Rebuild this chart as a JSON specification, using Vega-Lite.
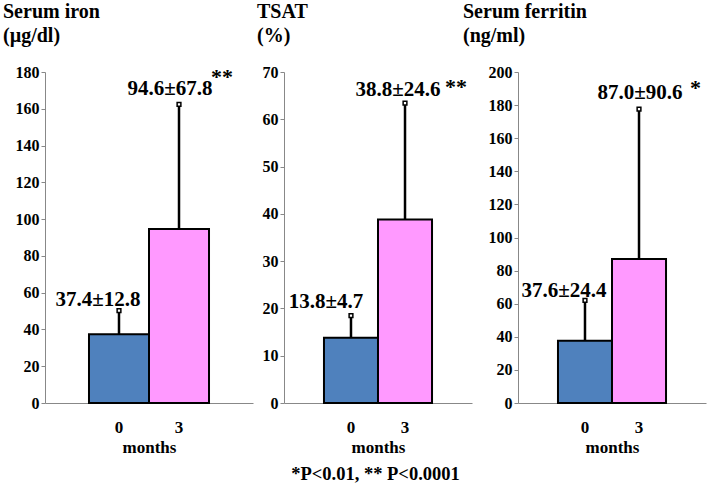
{
  "$schema": "https://vega.github.io/schema/vega-lite/v6.json",
  "padding": {"left": 3, "top": 2, "right": 2, "bottom": 5},
  "datasets": {
    "iron": [
      {"month": "0", "mean": 37.4, "sd": 12.8, "hi": 50.2, "label": "37.4±12.8", "sig": ""},
      {"month": "3", "mean": 94.6, "sd": 67.8, "hi": 162.4, "label": "94.6±67.8", "sig": "**"}
    ],
    "tsat": [
      {"month": "0", "mean": 13.8, "sd": 4.7, "hi": 18.5, "label": "13.8±4.7", "sig": ""},
      {"month": "3", "mean": 38.8, "sd": 24.6, "hi": 63.4, "label": "38.8±24.6", "sig": "**"}
    ],
    "ferritin": [
      {"month": "0", "mean": 37.6, "sd": 24.4, "hi": 62.0, "label": "37.6±24.4", "sig": ""},
      {"month": "3", "mean": 87.0, "sd": 90.6, "hi": 177.6, "label": "87.0±90.6", "sig": "*"}
    ]
  },
  "title": {"text": "*P<0.01, ** P<0.0001", "orient": "bottom", "anchor": "middle", "dx": 21, "offset": 10, "fontSize": 18.5},
  "columns": 3,
  "spacing": -9,
  "align": {"row": "each", "column": "none"},
  "bounds": "full",
  "concat": [
    {
      "width": 208, "height": 331,
      "title": {"text": ["Serum iron", "(µg/dl)"], "anchor": "start", "dx": -12, "offset": 18},
      "data": {"name": "iron"},
      "encoding": {"x": {"field": "month", "type": "nominal", "sort": ["0", "3"], "scale": {"paddingInner": 0, "paddingOuter": 0.733},
        "axis": {"title": "months", "labelFont": "Liberation Serif", "labelFontWeight": "bold", "labelFontSize": 17, "titleFont": "Liberation Serif", "titleFontWeight": "bold", "titleFontSize": 17, "ticks": false, "labelPadding": 16, "titlePadding": 4, "labelAngle": 0, "domainColor": "#888888"}}},
      "layer": [
        {"mark": {"type": "bar", "stroke": "black", "strokeWidth": 2},
         "encoding": {
           "y": {"field": "mean", "type": "quantitative", "scale": {"domain": [0, 180], "nice": false},
             "axis": {"values": [0, 20, 40, 60, 80, 100, 120, 140, 160, 180], "tickCount": 30, "title": null, "labelOverlap": false, "labelFont": "Liberation Serif", "labelFontWeight": "bold", "labelFontSize": 16, "tickSize": 4, "labelPadding": 2, "domainColor": "#888888", "tickColor": "#888888", "grid": false}},
           "color": {"field": "month", "type": "nominal", "scale": {"domain": ["0", "3"], "range": ["#4f81bd", "#ff99ff"]}, "legend": null}}},
        {"mark": {"type": "rule", "strokeWidth": 2.5, "color": "black"}, "encoding": {"y": {"field": "mean", "type": "quantitative"}, "y2": {"field": "hi"}}},
        {"mark": {"type": "point", "shape": "square", "size": 14, "filled": true, "fill": "white", "stroke": "black", "strokeWidth": 1.5, "opacity": 1}, "encoding": {"y": {"field": "hi", "type": "quantitative"}}},
        {"transform": [{"filter": "datum.month == '0'"}], "mark": {"type": "text", "dx": -21, "dy": -5, "baseline": "alphabetic"}, "encoding": {"y": {"field": "hi", "type": "quantitative"}, "text": {"field": "label"}}},
        {"transform": [{"filter": "datum.month == '3'"}], "mark": {"type": "text", "dx": -9, "dy": -9, "baseline": "alphabetic"}, "encoding": {"y": {"field": "hi", "type": "quantitative"}, "text": {"field": "label"}}},
        {"transform": [{"filter": "datum.month == '3'"}], "mark": {"type": "text", "align": "left", "dx": 32, "dy": -20, "fontSize": 22, "baseline": "alphabetic"}, "encoding": {"y": {"field": "hi", "type": "quantitative"}, "text": {"field": "sig"}}}
      ]
    },
    {
      "width": 188, "height": 331,
      "title": {"text": ["TSAT", "(%)"], "anchor": "start", "dx": 13, "offset": 18},
      "data": {"name": "tsat"},
      "encoding": {"x": {"field": "month", "type": "nominal", "sort": ["0", "3"], "scale": {"paddingInner": 0, "paddingOuter": 0.74},
        "axis": {"title": "months", "labelFont": "Liberation Serif", "labelFontWeight": "bold", "labelFontSize": 17, "titleFont": "Liberation Serif", "titleFontWeight": "bold", "titleFontSize": 17, "ticks": false, "labelPadding": 16, "titlePadding": 4, "labelAngle": 0, "domainColor": "#888888"}}},
      "layer": [
        {"mark": {"type": "bar", "stroke": "black", "strokeWidth": 2},
         "encoding": {
           "y": {"field": "mean", "type": "quantitative", "scale": {"domain": [0, 70], "nice": false},
             "axis": {"values": [0, 10, 20, 30, 40, 50, 60, 70], "tickCount": 30, "title": null, "minExtent": 40, "labelOverlap": false, "labelFont": "Liberation Serif", "labelFontWeight": "bold", "labelFontSize": 16, "tickSize": 4, "labelPadding": 2, "domainColor": "#888888", "tickColor": "#888888", "grid": false}},
           "color": {"field": "month", "type": "nominal", "scale": {"domain": ["0", "3"], "range": ["#4f81bd", "#ff99ff"]}, "legend": null}}},
        {"mark": {"type": "rule", "strokeWidth": 2.5, "color": "black"}, "encoding": {"y": {"field": "mean", "type": "quantitative"}, "y2": {"field": "hi"}}},
        {"mark": {"type": "point", "shape": "square", "size": 14, "filled": true, "fill": "white", "stroke": "black", "strokeWidth": 1.5, "opacity": 1}, "encoding": {"y": {"field": "hi", "type": "quantitative"}}},
        {"transform": [{"filter": "datum.month == '0'"}], "mark": {"type": "text", "dx": -25, "dy": -8, "baseline": "alphabetic"}, "encoding": {"y": {"field": "hi", "type": "quantitative"}, "text": {"field": "label"}}},
        {"transform": [{"filter": "datum.month == '3'"}], "mark": {"type": "text", "dx": -7, "dy": -7, "baseline": "alphabetic"}, "encoding": {"y": {"field": "hi", "type": "quantitative"}, "text": {"field": "label"}}},
        {"transform": [{"filter": "datum.month == '3'"}], "mark": {"type": "text", "align": "left", "dx": 40, "dy": -9, "fontSize": 22, "baseline": "alphabetic"}, "encoding": {"y": {"field": "hi", "type": "quantitative"}, "text": {"field": "sig"}}}
      ]
    },
    {
      "width": 188, "height": 331,
      "title": {"text": ["Serum ferritin", "(ng/ml)"], "anchor": "start", "dx": -25, "offset": 18},
      "data": {"name": "ferritin"},
      "encoding": {"x": {"field": "month", "type": "nominal", "sort": ["0", "3"], "scale": {"paddingInner": 0, "paddingOuter": 0.74},
        "axis": {"title": "months", "labelFont": "Liberation Serif", "labelFontWeight": "bold", "labelFontSize": 17, "titleFont": "Liberation Serif", "titleFontWeight": "bold", "titleFontSize": 17, "ticks": false, "labelPadding": 16, "titlePadding": 4, "labelAngle": 0, "domainColor": "#888888"}}},
      "layer": [
        {"mark": {"type": "bar", "stroke": "black", "strokeWidth": 2},
         "encoding": {
           "y": {"field": "mean", "type": "quantitative", "scale": {"domain": [0, 200], "nice": false},
             "axis": {"values": [0, 20, 40, 60, 80, 100, 120, 140, 160, 180, 200], "tickCount": 30, "title": null, "labelOverlap": false, "labelFont": "Liberation Serif", "labelFontWeight": "bold", "labelFontSize": 16, "tickSize": 4, "labelPadding": 2, "domainColor": "#888888", "tickColor": "#888888", "grid": false}},
           "color": {"field": "month", "type": "nominal", "scale": {"domain": ["0", "3"], "range": ["#4f81bd", "#ff99ff"]}, "legend": null}}},
        {"mark": {"type": "rule", "strokeWidth": 2.5, "color": "black"}, "encoding": {"y": {"field": "mean", "type": "quantitative"}, "y2": {"field": "hi"}}},
        {"mark": {"type": "point", "shape": "square", "size": 14, "filled": true, "fill": "white", "stroke": "black", "strokeWidth": 1.5, "opacity": 1}, "encoding": {"y": {"field": "hi", "type": "quantitative"}}},
        {"transform": [{"filter": "datum.month == '0'"}], "mark": {"type": "text", "dx": -21, "dy": -3, "baseline": "alphabetic"}, "encoding": {"y": {"field": "hi", "type": "quantitative"}, "text": {"field": "label"}}},
        {"transform": [{"filter": "datum.month == '3'"}], "mark": {"type": "text", "dx": 1, "dy": -10, "baseline": "alphabetic"}, "encoding": {"y": {"field": "hi", "type": "quantitative"}, "text": {"field": "label"}}},
        {"transform": [{"filter": "datum.month == '3'"}], "mark": {"type": "text", "align": "left", "dx": 51, "dy": -14, "fontSize": 22, "baseline": "alphabetic"}, "encoding": {"y": {"field": "hi", "type": "quantitative"}, "text": {"field": "sig"}}}
      ]
    }
  ],
  "config": {
    "font": "Liberation Serif",
    "view": {"stroke": null},
    "axis": {"labelColor": "black", "titleColor": "black", "grid": false},
    "title": {"font": "Liberation Serif", "fontWeight": "bold", "fontSize": 20, "color": "black", "lineHeight": 24},
    "text": {"font": "Liberation Serif", "fontWeight": "bold", "fontSize": 21, "color": "black"}
  }
}
